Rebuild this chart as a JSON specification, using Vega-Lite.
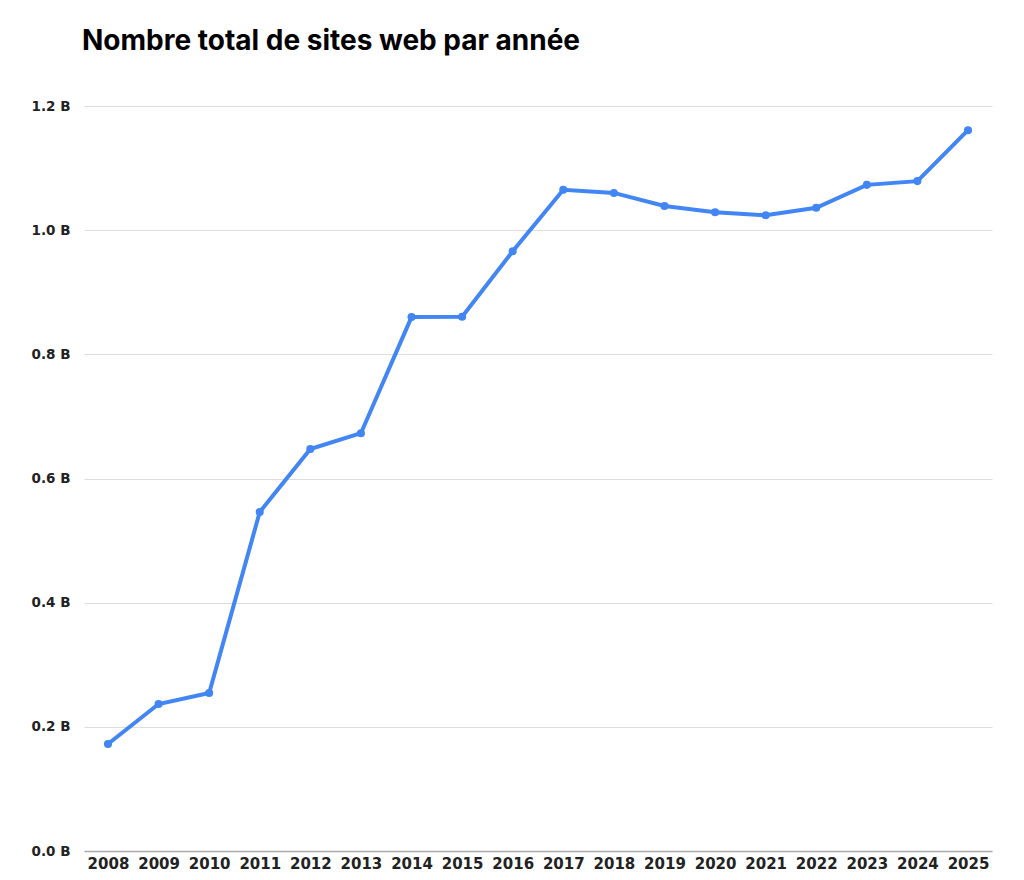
{
  "$schema": "https://vega.github.io/schema/vega-lite/v6.json",
  "autosize": "none",
  "width": 908,
  "height": 745,
  "padding": {"left": 84, "top": 106, "right": 32, "bottom": 29},
  "background": "white",
  "title": {
    "text": "Nombre total de sites web par année",
    "anchor": "start",
    "frame": "group",
    "baseline": "alphabetic",
    "offset": 21,
    "dx": -2,
    "font": "Inter",
    "fontSize": 28,
    "fontWeight": "bold",
    "color": "#000000"
  },
  "data": {
    "values": [
      {"annee": "2008", "sites": 172300000},
      {"annee": "2009", "sites": 236800000},
      {"annee": "2010", "sites": 254500000},
      {"annee": "2011", "sites": 546000000},
      {"annee": "2012", "sites": 647500000},
      {"annee": "2013", "sites": 673000000},
      {"annee": "2014", "sites": 860000000},
      {"annee": "2015", "sites": 860500000},
      {"annee": "2016", "sites": 966000000},
      {"annee": "2017", "sites": 1065000000},
      {"annee": "2018", "sites": 1060000000},
      {"annee": "2019", "sites": 1039000000},
      {"annee": "2020", "sites": 1029000000},
      {"annee": "2021", "sites": 1024000000},
      {"annee": "2022", "sites": 1036000000},
      {"annee": "2023", "sites": 1073000000},
      {"annee": "2024", "sites": 1079000000},
      {"annee": "2025", "sites": 1161000000}
    ]
  },
  "mark": {"type": "line", "color": "#4285F4", "strokeWidth": 4, "point": {"filled": true, "size": 65, "color": "#4285F4"}},
  "encoding": {
    "x": {
      "field": "annee",
      "type": "ordinal",
      "scale": {"type": "point", "padding": 0.474},
      "axis": {
        "title": null,
        "labelAngle": 0,
        "labelFont": "DejaVu Sans",
        "labelFontWeight": "bold",
        "labelFontSize": 15,
        "labelColor": "#222222",
        "labelPadding": 5,
        "ticks": false,
        "domainColor": "#aaaaaa",
        "domainWidth": 1.5,
        "grid": false
      }
    },
    "y": {
      "field": "sites",
      "type": "quantitative",
      "scale": {"domain": [0, 1200000000], "nice": false},
      "axis": {
        "title": null,
        "values": [0, 200000000, 400000000, 600000000, 800000000, 1000000000, 1200000000],
        "labelExpr": "format(datum.value / 1e9, '.1f') + ' B'",
        "labelFont": "DejaVu Sans",
        "labelFontWeight": "bold",
        "labelFontSize": 13.5,
        "labelColor": "#222222",
        "labelPadding": 14,
        "ticks": false,
        "domain": false,
        "gridColor": "#dddddd",
        "gridWidth": 1
      }
    }
  },
  "config": {"view": {"stroke": null}}
}
